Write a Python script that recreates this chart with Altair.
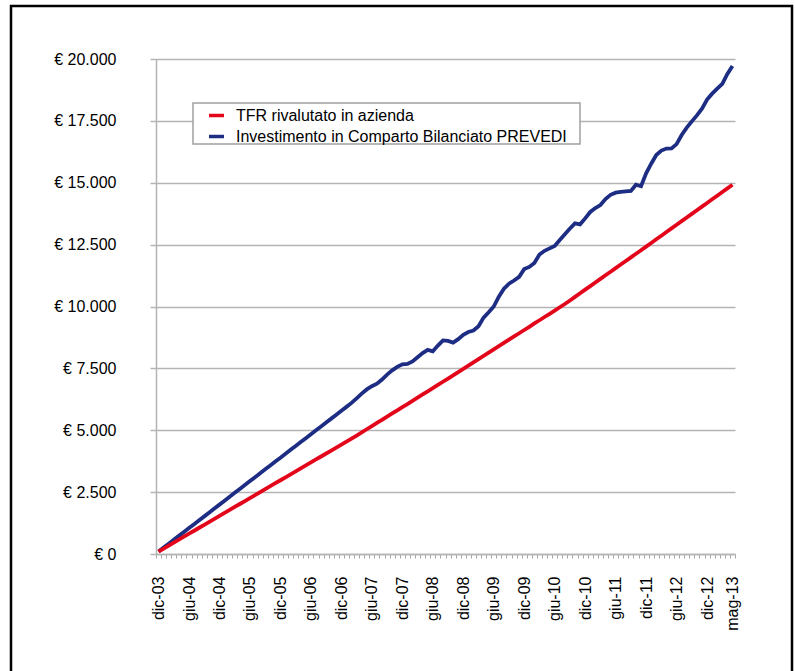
import json
import altair as alt
import pandas as pd

# Series names as they appear in the legend
series_names = ["TFR rivalutato in azienda", "Investimento in Comparto Bilanciato PREVEDI"]

# Monthly values (EUR), from dic-03 to mag-13
tfr = [
    100, 220, 340, 460, 580, 700, 820, 940, 1060, 1180,
    1300, 1420, 1540, 1660, 1780, 1900, 2020, 2140, 2260, 2380,
    2500, 2620, 2740, 2860, 2980, 3100, 3220, 3340, 3460, 3580,
    3700, 3820, 3940, 4060, 4180, 4300, 4420, 4540, 4660, 4785,
    4910, 5040, 5165, 5295, 5420, 5550, 5680, 5805, 5935, 6060,
    6190, 6320, 6450, 6575, 6700, 6830, 6960, 7090, 7220, 7350,
    7480, 7610, 7740, 7875, 8005, 8135, 8265, 8395, 8530, 8660,
    8790, 8920, 9050, 9180, 9315, 9445, 9575, 9705, 9835, 9970,
    10100, 10245, 10390, 10535, 10680, 10825, 10970, 11115, 11260, 11405,
    11550, 11695, 11840, 11985, 12130, 12275, 12420, 12567, 12714, 12861,
    13008, 13155, 13302, 13449, 13596, 13743, 13890, 14037, 14184, 14331,
    14478, 14625, 14772, 14920,
]
prevedi = [
    100, 258, 415, 575, 732, 890, 1050, 1205, 1365, 1520,
    1680, 1840, 1995, 2155, 2310, 2470, 2630, 2785, 2945, 3100,
    3260, 3420, 3575, 3735, 3890, 4050, 4210, 4365, 4525, 4680,
    4840, 5000, 5155, 5315, 5470, 5630, 5790, 5945, 6105, 6290,
    6480, 6650, 6780, 6880, 7050, 7250, 7420, 7560, 7660, 7680,
    7780, 7950, 8120, 8250, 8190, 8420, 8630, 8610, 8540, 8680,
    8860, 8970, 9030, 9200, 9550, 9770, 10000, 10400, 10720, 10920,
    11050, 11200, 11510, 11600, 11760, 12100, 12250, 12350, 12450, 12690,
    12920, 13150, 13360, 13320, 13560, 13820, 13980, 14100, 14340, 14510,
    14600, 14630, 14650, 14670, 14920, 14860, 15380, 15770, 16120, 16300,
    16380, 16390, 16560, 16930, 17230, 17480, 17720, 17990, 18360, 18600,
    18800, 19000, 19400, 19720,
]

# Category axis labels and the month index each one sits on
tick_labels = [
    "dic-03", "giu-04", "dic-04", "giu-05", "dic-05", "giu-06", "dic-06",
    "giu-07", "dic-07", "giu-08", "dic-08", "giu-09", "dic-09", "giu-10",
    "dic-10", "giu-11", "dic-11", "giu-12", "dic-12", "mag-13",
]
tick_months = [0, 6, 12, 18, 24, 30, 36, 42, 48, 54, 60, 66, 72, 78, 84, 90, 96, 102, 108, 113]
y_ticks = [0, 2500, 5000, 7500, 10000, 12500, 15000, 17500, 20000]

RED = "#E3061B"
BLUE = "#1E2D84"
GRID = "#B4B4B4"
FONT = "Liberation Sans"

W, H = 579, 495
n = len(tfr)

rows = []
for i in range(n):
    rows.append({"mese": i, "serie": series_names[0], "valore": tfr[i]})
    rows.append({"mese": i, "serie": series_names[1], "valore": prevedi[i]})
df = pd.DataFrame(rows)

# Ticks sit on the boundaries between months; labels are shifted to the month centre
label_array = [""] * (n + 1)
for m, lab in zip(tick_months, tick_labels):
    label_array[m] = lab
x_label_expr = json.dumps(label_array) + "[round(datum.value + 0.5)]"

x_enc = alt.X(
    "mese:Q",
    scale=alt.Scale(domain=[-0.5, n - 0.5], nice=False, zero=False),
    axis=alt.Axis(
        values=[k - 0.5 for k in range(n + 1)],
        labelExpr=x_label_expr,
        labelAngle=-90,
        labelOffset=W / n / 2,
        labelOverlap=False,
        labelFlush=False,
        labelBound=False,
        labelPadding=18,
        tickSize=4,
        tickColor="#A8A8A8",
        domainColor=GRID,
        domainWidth=1.5,
        grid=False,
        title=None,
    ),
)

y_enc = alt.Y(
    "valore:Q",
    scale=alt.Scale(domain=[0, 20000], nice=False),
    axis=alt.Axis(
        values=y_ticks,
        labelExpr="datum.value == 0 ? '€ 0' : '€ ' + format(datum.value / 1000, '.3f')",
        grid=True,
        gridColor=GRID,
        gridWidth=1.5,
        tickSize=6,
        tickColor=GRID,
        tickWidth=1.5,
        domainColor=GRID,
        domainWidth=1.5,
        labelPadding=34,
        title=None,
    ),
)

color_enc = alt.Color(
    "serie:N",
    scale=alt.Scale(domain=series_names, range=[RED, BLUE]),
    legend=alt.Legend(
        orient="none",
        legendX=37,
        legendY=44,
        title=None,
        symbolType="stroke",
        symbolSize=225,
        symbolStrokeWidth=3.5,
        symbolOffset=11,
        labelOffset=10,
        labelFontSize=16,
        labelFont=FONT,
        labelColor="black",
        labelLimit=0,
        padding=3,
        rowPadding=3,
    ),
)

base = alt.Chart(df).encode(x=x_enc, y=y_enc, color=color_enc)

line_prevedi = base.transform_filter(
    alt.datum.serie == series_names[1]
).mark_line(strokeWidth=3.8)
line_tfr = base.transform_filter(
    alt.datum.serie == series_names[0]
).mark_line(strokeWidth=3.8)

# Outer frame around the whole figure
frame = alt.Chart(pd.DataFrame({"f": [0]})).mark_rect(
    filled=False, stroke="black", strokeWidth=2.5
).encode(
    x=alt.value(-145), x2=alt.value(636),
    y=alt.value(-53), y2=alt.value(625),
)

# White box with a grey border behind the legend entries
legend_box = alt.Chart(pd.DataFrame({"f": [0]})).mark_rect(
    fill="white", stroke="#A0A0A0", strokeWidth=1.5
).encode(
    x=alt.value(37), x2=alt.value(424),
    y=alt.value(44), y2=alt.value(85),
)

chart = alt.layer(frame, legend_box, line_prevedi, line_tfr).properties(
    width=W,
    height=H,
    padding={"left": 156, "top": 59, "right": 60, "bottom": 117},
    autosize=alt.AutoSizeParams(type="none"),
    background="white",
).configure_axis(
    labelFont=FONT,
    labelFontSize=16,
    labelColor="black",
).configure_view(stroke=None)

chart.save("out.html", embed_options={"renderer": "svg", "actions": False})
